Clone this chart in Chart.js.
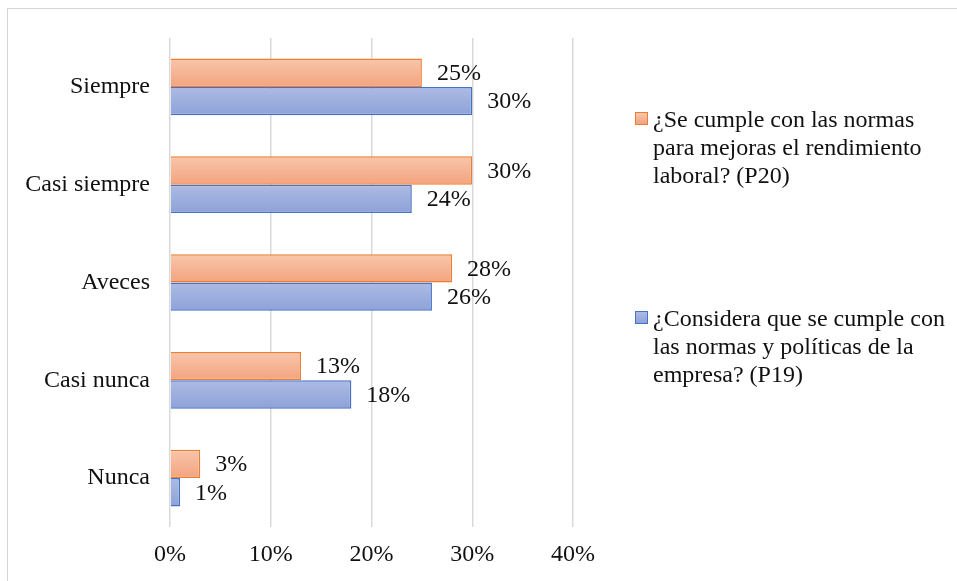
<!DOCTYPE html>
<html lang="es">
<head>
<meta charset="utf-8">
<title>Cumplimiento de normas (P19 / P20)</title>
<script src="https://cdn.jsdelivr.net/npm/chart.js@4/dist/chart.umd.min.js"></script>
<style>
  html, body { margin: 0; padding: 0; background: #fff; }
  #wrap { position: relative; width: 957px; height: 581px; overflow: hidden; }
  #frame { position: absolute; left: 7px; top: 8px; width: 1200px; height: 1000px;
           border-left: 1px solid #d4d4d4; border-top: 1px solid #d4d4d4; }
  #chart { position: absolute; left: 0; top: 0; }
  .lg-item { position: absolute; left: 635px; width: 320px;
             font-family: "Liberation Serif", "Times New Roman", serif;
             font-size: 24px; line-height: 28px; color: #111; }
  .lg-box { position: absolute; left: 0; top: 7px; width: 11px; height: 11px; }
  .lg-text { position: absolute; left: 18px; top: 0; width: 300px; }
</style>
</head>
<body>
<div id="wrap">
  <div id="frame"></div>
  <canvas id="chart" width="957" height="581"></canvas>
  <div id="legend"></div>
</div>
<script>
// Answer categories, top to bottom
const categories = ['Siempre', 'Casi siempre', 'Aveces', 'Casi nunca', 'Nunca'];

// Percentage of responses per question
const p20Values = [25, 30, 28, 13, 3];
const p19Values = [30, 24, 26, 18, 1];

const seriesNames = [
  '¿Se cumple con las normas para mejoras el rendimiento laboral? (P20)',
  '¿Considera que se cumple con las normas y políticas de la empresa? (P19)'
];

// Value axis ticks (percent)
const xTicks = [0, 10, 20, 30, 40];

const FONT = '"Liberation Serif", "Times New Roman", serif';
const CAT_PCT = 0.58;

const palette = [
  { top: '#f9c6ab', bottom: '#f3a37e', border: '#ed7d31' },
  { top: '#adbbe4', bottom: '#8da2d8', border: '#4472c4' }
];

// Vertical gradient fill for each bar, computed from the category scale
function barFill(p) {
  return function (ctx) {
    const chart = ctx.chart;
    const y = chart.scales && chart.scales.y;
    if (!y || ctx.dataIndex === undefined || !chart.chartArea) return p.bottom;
    const c = y.getPixelForValue(ctx.dataIndex);
    const band = y.height / categories.length;
    const h = band * CAT_PCT / 2;
    const y0 = ctx.datasetIndex === 0 ? c - h : c;
    const g = chart.ctx.createLinearGradient(0, y0, 0, y0 + h);
    g.addColorStop(0, p.top);
    g.addColorStop(1, p.bottom);
    return g;
  };
}

// Percent labels placed just past the end of each bar
const valueLabels = {
  id: 'valueLabels',
  afterDatasetsDraw(chart) {
    const ctx = chart.ctx;
    ctx.save();
    ctx.font = '24px ' + FONT;
    ctx.fillStyle = '#111';
    ctx.textAlign = 'left';
    ctx.textBaseline = 'middle';
    chart.data.datasets.forEach((ds, di) => {
      const meta = chart.getDatasetMeta(di);
      meta.data.forEach((bar, i) => {
        ctx.fillText(ds.data[i] + '%', bar.x + 15, bar.y + 1);
      });
    });
    ctx.restore();
  }
};

Chart.defaults.font.family = FONT;
Chart.defaults.font.size = 24;
Chart.defaults.color = '#111';

const chart = new Chart(document.getElementById('chart'), {
  type: 'bar',
  data: {
    labels: categories,
    datasets: [
      {
        label: seriesNames[0],
        data: p20Values,
        backgroundColor: barFill(palette[0]),
        borderColor: palette[0].border,
        borderWidth: 1.5
      },
      {
        label: seriesNames[1],
        data: p19Values,
        backgroundColor: barFill(palette[1]),
        borderColor: palette[1].border,
        borderWidth: 1.5
      }
    ]
  },
  options: {
    indexAxis: 'y',
    responsive: false,
    animation: false,
    categoryPercentage: CAT_PCT,
    barPercentage: 1,
    layout: { padding: { top: 38, right: 384, bottom: 0, left: 0 } },
    plugins: {
      legend: { display: false },
      tooltip: { enabled: false }
    },
    scales: {
      x: {
        min: xTicks[0],
        max: xTicks[xTicks.length - 1],
        afterBuildTicks(scale) { scale.ticks = xTicks.map(v => ({ value: v })); },
        afterFit(scale) { scale.height = 54; },
        grid: { color: '#d9d9d9', lineWidth: 1.5, drawTicks: false },
        border: { display: false },
        ticks: { padding: 13, callback: v => v + '%' }
      },
      y: {
        afterFit(scale) { scale.width = 170; },
        grid: { display: false, drawTicks: false },
        border: { display: false },
        ticks: { padding: 20 }
      }
    }
  },
  plugins: [valueLabels]
});

// Legend built from the chart's datasets
const legendTops = [105, 304];
const legendEl = document.getElementById('legend');
chart.data.datasets.forEach((ds, i) => {
  const item = document.createElement('div');
  item.className = 'lg-item';
  item.style.top = legendTops[i] + 'px';
  const box = document.createElement('div');
  box.className = 'lg-box';
  box.style.background = 'linear-gradient(' + palette[i].top + ',' + palette[i].bottom + ')';
  box.style.border = '1px solid ' + palette[i].border;
  const text = document.createElement('div');
  text.className = 'lg-text';
  text.textContent = ds.label;
  item.appendChild(box);
  item.appendChild(text);
  legendEl.appendChild(item);
});
</script>
</body>
</html>
